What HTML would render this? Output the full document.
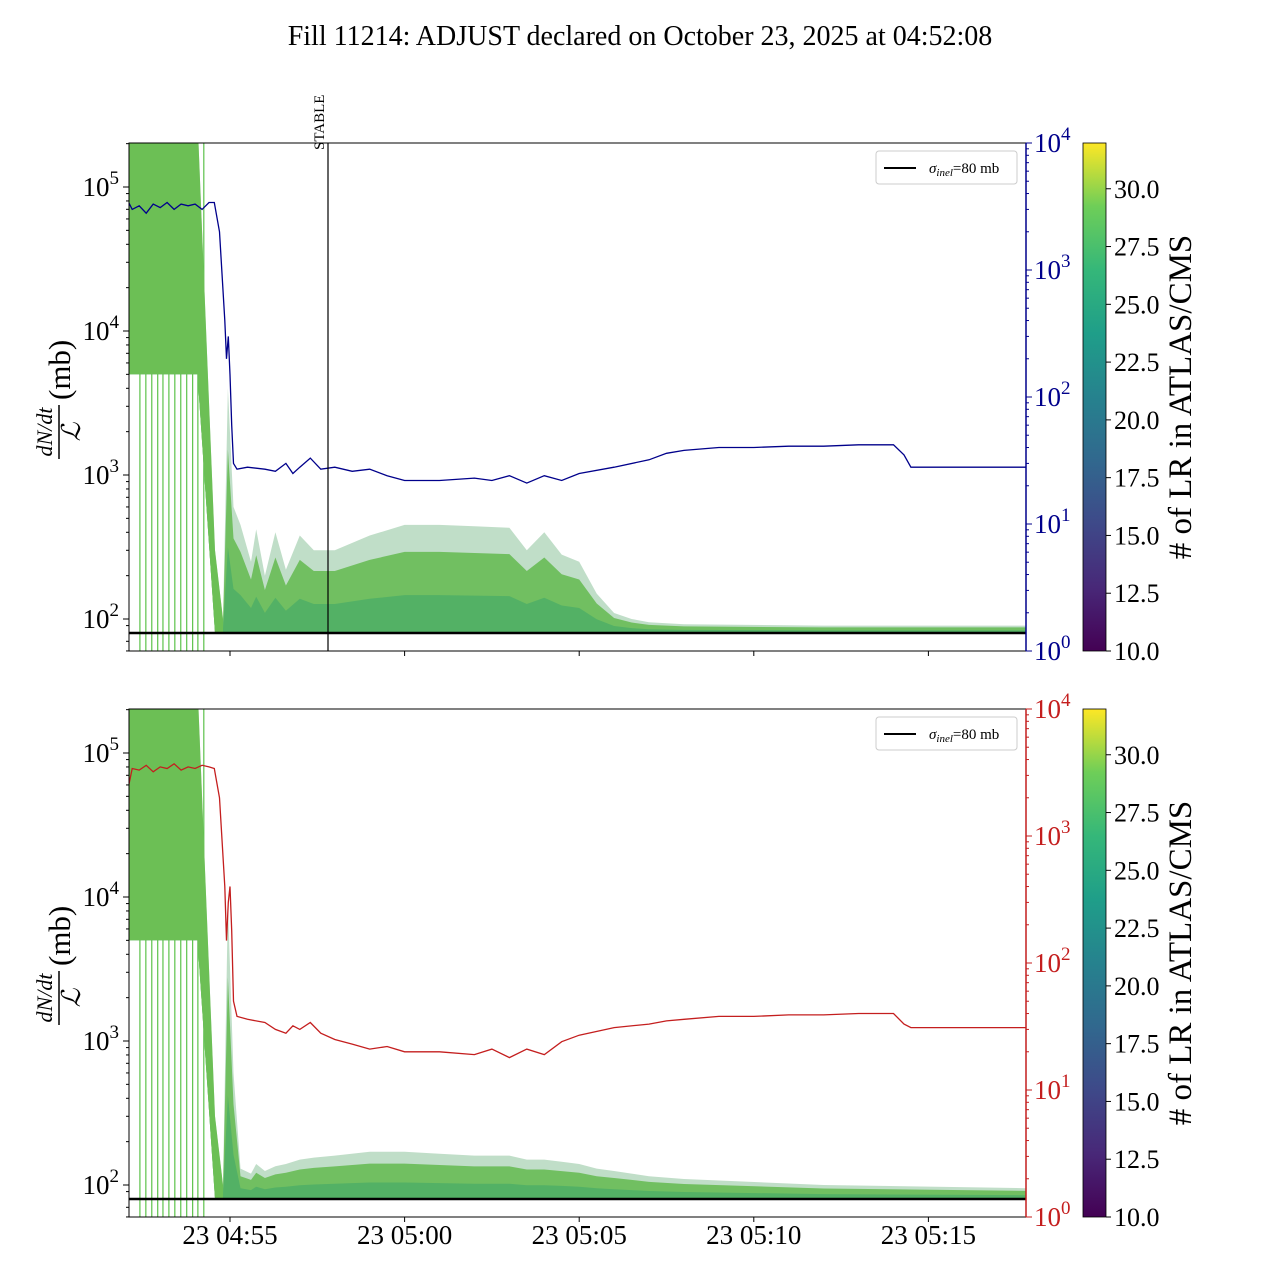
<!DOCTYPE html>
<html><head><meta charset="utf-8"><style>
body{margin:0;background:#fff;}
svg text{font-family:"Liberation Serif","DejaVu Serif",serif;}
</style></head><body>
<svg id="c" width="1280" height="1280" xmlns="http://www.w3.org/2000/svg">
<defs>
<linearGradient id="vir" x1="0" y1="1" x2="0" y2="0">
<stop offset="0" stop-color="#440154"/><stop offset="0.125" stop-color="#482878"/><stop offset="0.25" stop-color="#3e4989"/><stop offset="0.375" stop-color="#31688e"/><stop offset="0.5" stop-color="#26828e"/><stop offset="0.625" stop-color="#1f9e89"/><stop offset="0.75" stop-color="#35b779"/><stop offset="0.875" stop-color="#6ece58"/><stop offset="1" stop-color="#fde725"/>
</linearGradient>
</defs>
<text x="640" y="45" font-size="28" text-anchor="middle">Fill 11214: ADJUST declared on October 23, 2025 at 04:52:08</text>
</svg>
<script>
const lumiTimes=[0.1,0.2,0.4,0.6,0.8,1.0,1.2,1.4,1.6,1.8,2.0,2.2,2.4,2.55,2.7,2.85,2.9,2.95,3.0,3.05,3.1,3.2,3.5,4,4.3,4.6,4.8,5.0,5.3,5.6,6,6.5,7,7.5,8,9,10,10.5,11,11.5,12,12.5,13,14,15,15.5,16,17,18,19,20,21,22,22.3,22.5,23,25.8];
const lumiTop=[3400,3000,3200,2800,3300,3100,3400,3000,3300,3200,3300,3000,3400,3400,2000,400,200,300,150,60,30,27,28,27,26,30,25,28,33,27,28,26,27,24,22,22,23,22,24,21,24,22,25,28,32,36,38,40,40,41,41,42,42,35,28,28,28];
const lumiBot=[2500,3400,3300,3600,3200,3500,3400,3700,3300,3500,3400,3600,3500,3400,2000,400,150,300,400,180,50,38,36,34,30,28,32,30,34,28,25,23,21,22,20,20,19,21,18,21,19,24,27,31,33,35,36,38,38,39,39,40,40,33,31,31,31];
const bandTimes=[0.1,2.07,2.57,2.8,2.94,3.1,3.3,3.6,3.75,4.0,4.3,4.6,5.0,5.4,6,7,8,9,10,11,11.5,12,12.5,13,13.5,14,14.5,15,16,20,25.8];
const upperTop=[3e5,3e5,300,100,4000,600,450,250,420,200,400,220,380,300,300,380,450,450,440,430,300,400,280,250,150,110,100,95,92,90,90];
const lowerTop=[5000,5000,80,80,80,80,80,80,80,80,80,80,80,80,80,80,80,80,80,80,80,80,80,80,80,80,80,80,80,80,80];
const upperBot=[3e5,3e5,300,100,9000,600,130,120,140,125,135,140,150,155,160,170,170,165,160,160,150,150,145,140,130,125,120,115,110,100,95];
const lowerBot=[5000,5000,80,80,80,80,80,80,80,80,80,80,80,80,80,80,80,80,80,80,80,80,80,80,80,80,80,80,80,80,80];
const startLines=[0.42,0.59,0.76,0.93,1.08,1.25,1.42,1.59,1.76,1.93,2.08,2.25];
const xTicks=[3,8,13,18,23];
const xTickLabels=["23 04:55","23 05:00","23 05:05","23 05:10","23 05:15"];
const cbTicks=[10,12.5,15,17.5,20,22.5,25,27.5,30];
const NS="http://www.w3.org/2000/svg";
const svg=document.getElementById('c');
function el(tag,attrs,parent){const e=document.createElementNS(NS,tag);for(const k in attrs)e.setAttribute(k,attrs[k]);(parent||svg).appendChild(e);return e;}
const X0=129,X1=1026;
function xs(t){return 230+(t-3)*34.92;}
function panel(top,lumi,lumiColor,upper,lower,stable,tag){
 const bot=top+508;
 const yl=v=>top+44+(5-Math.log10(v))*144;
 const yr=v=>bot-Math.log10(v)*127;
 const cp=el('clipPath',{id:'clip'+tag});el('rect',{x:X0,y:top,width:X1-X0,height:508},cp);
 const g=el('g',{'clip-path':'url(#clip'+tag+')'});
 
 
 startLines.forEach(t=>{const l=el('line',{x1:xs(t),x2:xs(t),y1:top,y2:bot,stroke:'#5cc24a','stroke-width':1.2},g);
  
  });
 let d='';bandTimes.forEach((t,i)=>{d+=(i?'L':'M')+xs(t).toFixed(1)+','+yl(upper[i]).toFixed(1);});
 for(let i=bandTimes.length-1;i>=0;i--)d+='L'+xs(bandTimes[i]).toFixed(1)+','+yl(lower[i]).toFixed(1);
 const b=el('path',{d:d+'Z',fill:'#8cc29a',opacity:0.55},g);
 
 
 let d2='';bandTimes.forEach((t,i)=>{const v=Math.pow(upper[i],0.75)*Math.pow(lower[i],0.25);d2+=(i?'L':'M')+xs(t).toFixed(1)+','+yl(v).toFixed(1);});
 for(let i=bandTimes.length-1;i>=0;i--)d2+='L'+xs(bandTimes[i]).toFixed(1)+','+yl(lower[i]).toFixed(1);
 const c=el('path',{d:d2+'Z',fill:'#68bb55',opacity:0.9},g);
 
 
 let d4='';bandTimes.forEach((t,i)=>{const v=Math.pow(upper[i],0.35)*Math.pow(lower[i],0.65);d4+=(i?'L':'M')+xs(t).toFixed(1)+','+yl(v).toFixed(1);});
 for(let i=bandTimes.length-1;i>=0;i--)d4+='L'+xs(bandTimes[i]).toFixed(1)+','+yl(lower[i]).toFixed(1);
 const c2=el('path',{d:d4+'Z',fill:'#3aa66a',opacity:0.55},g);
 
 
 // early injection block: solid
 let d5='';for(let i=0;i<=3;i++)d5+=(i?'L':'M')+xs(bandTimes[i]).toFixed(1)+','+yl(upper[i]).toFixed(1);
 for(let i=3;i>=0;i--)d5+='L'+xs(bandTimes[i]).toFixed(1)+','+yl(lower[i]).toFixed(1);
 const e5=el('path',{d:d5+'Z',fill:'#6cbf55'},g);
 
 
 let d3='';lumiTimes.forEach((t,i)=>{d3+=(i?'L':'M')+xs(t).toFixed(1)+','+yr(lumi[i]).toFixed(1);});
 const lp=el('path',{d:d3,fill:'none',stroke:lumiColor,'stroke-width':1.3},g);
 
 
 const ref=el('line',{x1:X0,x2:X1,y1:yl(80),y2:yl(80),stroke:'#000','stroke-width':2.5});
 
 
 if(stable){const s=el('line',{x1:328,x2:328,y1:top,y2:bot,stroke:'#000','stroke-width':1.2});
  
  
  const st=el('text',{x:0,y:0,'font-size':15,transform:'translate(324,150) rotate(-90)'});st.textContent='STABLE';
  
  }
 const fr=el('rect',{x:X0,y:top,width:X1-X0,height:508,fill:'none',stroke:'#000','stroke-width':1});
 
 
 for(let e=2;e<=5;e++){const y=yl(Math.pow(10,e));el('line',{x1:X0-6,x2:X0,y1:y,y2:y,stroke:'#000'});
  const t=el('text',{x:X0-10,y:y+9,'font-size':27,'text-anchor':'end'});t.innerHTML='10<tspan dy="-12" font-size="19">'+e+'</tspan>';
  
  
  for(let m=2;m<10;m++){const ym=yl(m*Math.pow(10,e));if(ym>top&&ym<bot)el('line',{x1:X0-3,x2:X0,y1:ym,y2:ym,stroke:'#000'});}}
 [60,70,90].forEach(v=>{const y=yl(v);if(y<bot)el('line',{x1:X0-3,x2:X0,y1:y,y2:y,stroke:'#000'});});
 for(let e=0;e<=4;e++){const y=yr(Math.pow(10,e));el('line',{x1:X1,x2:X1+6,y1:y,y2:y,stroke:lumiColor});
  const t=el('text',{x:X1+8,y:y+9,'font-size':27,fill:lumiColor});t.innerHTML='10<tspan dy="-12" font-size="19">'+e+'</tspan>';
  
  
  if(e<4)for(let m=2;m<10;m++){const ym=yr(m*Math.pow(10,e));el('line',{x1:X1,x2:X1+3,y1:ym,y2:ym,stroke:lumiColor});}}
 el('line',{x1:X1,x2:X1,y1:top,y2:bot,stroke:lumiColor,'stroke-width':1.5});
 xTicks.forEach((t,i)=>{el('line',{x1:xs(t),x2:xs(t),y1:bot,y2:bot+5,stroke:'#000'});
  if(tag==='bottom'){const tx=el('text',{x:xs(t),y:bot+27,'font-size':27,'text-anchor':'middle'});tx.textContent=xTickLabels[i];
   
   }});
 const yg=el('g',{transform:'translate(60,'+(top+254)+') rotate(-90)'});
 
 
 const a=el('text',{x:-35,y:-8,'font-size':22,'font-style':'italic','text-anchor':'middle'},yg);a.textContent='dN/dt';
 el('line',{x1:-62,x2:-8,y1:-1,y2:-1,stroke:'#000','stroke-width':1.5},yg);
 const bb=el('text',{x:-35,y:20,'font-size':26,'font-style':'italic','text-anchor':'middle'},yg);bb.textContent='ℒ';
 const mb=el('text',{x:-3,y:10,'font-size':31},yg);mb.textContent='(mb)';
 const lg=el('g',{});
 el('rect',{x:876,y:top+8,width:141,height:33,rx:3,fill:'#fff',stroke:'#ccc'},lg);
 el('line',{x1:884,x2:916,y1:top+25,y2:top+25,stroke:'#000','stroke-width':2},lg);
 const lt=el('text',{x:929,y:top+30,'font-size':15},lg);lt.innerHTML='<tspan font-style="italic">σ</tspan><tspan font-size="11" dy="3" font-style="italic">inel</tspan><tspan dy="-3">=80 mb</tspan>';
 const cb=el('rect',{x:1083,y:top,width:23,height:508,fill:'url(#vir)',stroke:'#000','stroke-width':0.8});
 
 
 const cy=v=>bot-(v-10)*(508/21.98);
 cbTicks.forEach(v=>{const y=cy(v);el('line',{x1:1106,x2:1111,y1:y,y2:y,stroke:'#000'});
  const t=el('text',{x:1114,y:y+9,'font-size':26});t.textContent=v.toFixed(1);
  
  });
 const ct=el('text',{x:0,y:0,'font-size':33,'text-anchor':'middle',transform:'translate(1191,'+(top+254)+') rotate(-90)'});ct.textContent='# of LR in ATLAS/CMS';
 
 
}
panel(143,lumiTop,'#00008b',upperTop,lowerTop,true,'top');
panel(709,lumiBot,'#c41e1e',upperBot,lowerBot,false,'bottom');
</script>
</body></html>
